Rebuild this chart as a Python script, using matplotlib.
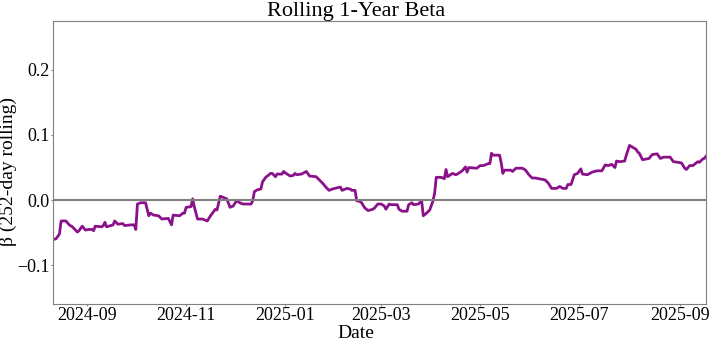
import pandas as pd
import matplotlib
matplotlib.use("Agg")
import matplotlib.pyplot as plt
import matplotlib.dates as mdates

# Rolling beta: day offsets from 2024-09-01 and beta values
BASE_DATE = "2024-09-01"
day_offset = [
    -21, -19, -17, -16, -13, -11, -9, -6, -5, -3, -1, 1, 3, 4, 5, 9, 10, 11, 12,
    16, 17, 19, 22, 23, 27, 29, 30, 31, 33, 36, 38, 39, 41, 44, 46, 50, 52, 53,
    57, 59, 60, 61, 64, 65, 66, 68, 71, 74, 76, 79, 80, 82, 84, 86, 88, 90, 92,
    94, 96, 101, 102, 103, 105, 107, 108, 110, 113, 114, 116, 117, 120, 121,
    122, 125, 127, 128, 129, 132, 135, 137, 141, 143, 145, 147, 149, 151, 154,
    156, 157, 160, 162, 163, 165, 166, 168, 169, 171, 173, 176, 177, 179, 181,
    183, 184, 186, 187, 191, 192, 194, 197, 198, 200, 201, 204, 206, 207, 209,
    211, 213, 214, 215, 218, 220, 221, 222, 225, 227, 228, 231, 233, 234, 235,
    240, 242, 244, 247, 248, 249, 250, 254, 255, 256, 257, 261, 262, 264, 268,
    270, 272, 274, 276, 282, 284, 286, 289, 291, 293, 295, 296, 298, 300, 302,
    304, 305, 308, 311, 314, 317, 319, 321, 323, 325, 326, 328, 331, 332, 334,
    336, 338, 339, 340, 342, 344, 346, 348, 351, 353, 355, 359, 361, 364, 366,
    368, 369, 371, 373, 375, 376, 377, 379, 380, 381,
]
beta = [
    -0.061, -0.059, -0.052, -0.032, -0.032, -0.038, -0.041, -0.049, -0.047,
    -0.040, -0.046, -0.045, -0.045, -0.047, -0.040, -0.041, -0.039, -0.034,
    -0.041, -0.038, -0.032, -0.037, -0.036, -0.039, -0.038, -0.038, -0.045,
    -0.006, -0.004, -0.004, -0.024, -0.020, -0.023, -0.024, -0.029, -0.028,
    -0.038, -0.023, -0.024, -0.020, -0.020, -0.011, -0.010, 0.002, -0.010,
    -0.029, -0.029, -0.032, -0.024, -0.014, -0.015, 0.006, 0.004, 0.002,
    -0.011, -0.009, -0.001, -0.004, -0.006, -0.006, -0.001, 0.013, 0.016,
    0.017, 0.028, 0.035, 0.041, 0.041, 0.036, 0.040, 0.040, 0.044, 0.042,
    0.037, 0.038, 0.041, 0.039, 0.040, 0.044, 0.037, 0.036, 0.031, 0.026,
    0.020, 0.015, 0.017, 0.019, 0.020, 0.015, 0.018, 0.017, 0.015, 0.015,
    -0.001, -0.002, -0.004, -0.012, -0.016, -0.014, -0.012, -0.006, -0.006,
    -0.009, -0.014, -0.006, -0.007, -0.007, -0.014, -0.017, -0.017, -0.007,
    -0.004, -0.007, -0.006, -0.001, -0.024, -0.020, -0.015, -0.001, 0.011,
    0.035, 0.035, 0.033, 0.047, 0.036, 0.041, 0.039, 0.040, 0.045, 0.051,
    0.043, 0.050, 0.049, 0.053, 0.053, 0.056, 0.056, 0.072, 0.069, 0.069,
    0.057, 0.041, 0.046, 0.046, 0.044, 0.049, 0.049, 0.046, 0.039, 0.034,
    0.034, 0.031, 0.026, 0.018, 0.018, 0.021, 0.018, 0.018, 0.024, 0.024,
    0.039, 0.041, 0.048, 0.040, 0.039, 0.043, 0.045, 0.045, 0.054, 0.053,
    0.055, 0.050, 0.060, 0.059, 0.060, 0.069, 0.084, 0.081, 0.078, 0.074,
    0.072, 0.062, 0.063, 0.064, 0.070, 0.071, 0.064, 0.066, 0.066, 0.059,
    0.058, 0.057, 0.049, 0.047, 0.053, 0.053, 0.057, 0.059, 0.058, 0.063,
    0.064, 0.067,
]

dates = pd.Timestamp(BASE_DATE) + pd.to_timedelta(day_offset, unit="D")

plt.rcParams['font.family'] = ['Liberation Serif', 'DejaVu Serif']

fig = plt.figure(figsize=(7.13, 3.42), dpi=100)
ax = fig.add_axes([0.0743, 0.112, 0.9157, 0.8266])

ax.plot(dates, beta, color='#8b118b', linewidth=2)
ax.axhline(0, color='gray', linewidth=1.5)

ax.set_xlim(dates[0], dates[-1])
ax.set_ylim(-0.159, 0.275)
ax.set_yticks([-0.1, 0.0, 0.1, 0.2])

ax.xaxis.set_major_locator(mdates.MonthLocator(bymonth=[1, 3, 5, 7, 9, 11]))
ax.xaxis.set_major_formatter(mdates.DateFormatter('%Y-%m'))

# title and axis labels sit at the figure centre, not the axes centre
ax.set_title("Rolling 1-Year Beta", fontsize=16, pad=3, x=0.464)
ax.set_xlabel("Date", fontsize=14)
ax.set_ylabel("β (252-day rolling)", fontsize=14)
ax.xaxis.set_label_coords(0.464, -0.074)
ax.yaxis.set_label_coords(-0.055, 0.469)
ax.tick_params(labelsize=13, length=1.5, color='gray', pad=1)
for spine in ax.spines.values():
    spine.set_color('gray')

fig.savefig("out.png", dpi=100)
